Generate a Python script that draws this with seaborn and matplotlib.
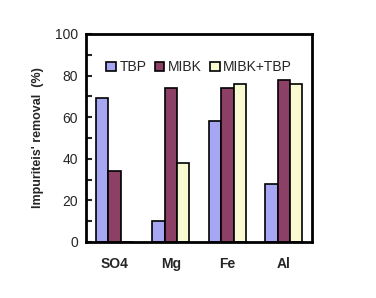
import pandas as pd
import matplotlib.pyplot as plt
import seaborn as sns
from matplotlib.ticker import MultipleLocator

# values
ions = ['SO4', 'Mg', 'Fe', 'Al']
reagents = ['TBP', 'MIBK', 'MIBK+TBP']
tbp = [69, 10, 58, 28]
mibk = [34, 74, 74, 78]
mibk_tbp = [0, 38, 76, 76]
colors = ['#9999FF', '#993366', '#FFFFCC']

df = pd.DataFrame({
    'ion': ions * 3,
    'reagent': [r for r in reagents for _ in ions],
    'removal': tbp + mibk + mibk_tbp,
})

sns.set_style('white')
plt.rcParams['font.family'] = ['Liberation Sans', 'DejaVu Sans']

fig = plt.figure(figsize=(3.76, 2.98), dpi=100)
ax = fig.add_axes([0.229, 0.188, 0.601, 0.698])

sns.barplot(data=df, x='ion', y='removal', hue='reagent', order=ions,
            hue_order=reagents, palette=colors, edgecolor='black',
            linewidth=1.2, width=0.66, ax=ax)

ax.set_xlim(-0.5, 3.5)
ax.set_ylim(0, 100)
ax.yaxis.set_major_locator(MultipleLocator(20))
ax.yaxis.set_minor_locator(MultipleLocator(10))
ax.tick_params(axis='y', which='both', direction='in', length=4, width=1.5,
               left=True, labelsize=10, pad=6)
ax.tick_params(axis='x', length=0, pad=11)
for lbl in ax.get_xticklabels():
    lbl.set_fontweight('bold')
    lbl.set_fontsize(10)

for sp in ax.spines.values():
    sp.set_visible(True)
    sp.set_color('black')
    sp.set_linewidth(2)

ax.set_xlabel('')
ax.set_ylabel("Impuriteis' removal  (%)", fontsize=9, fontweight='bold', labelpad=8)

handles, labels = ax.get_legend_handles_labels()
ax.legend(handles, labels, ncol=3, loc='center', bbox_to_anchor=(0.5, 0.84),
          frameon=False, fontsize=10, handlelength=0.7, handleheight=0.7,
          handletextpad=0.25, columnspacing=0.6, borderaxespad=0)

plt.savefig('out.png', dpi=100)
plt.close(fig)
